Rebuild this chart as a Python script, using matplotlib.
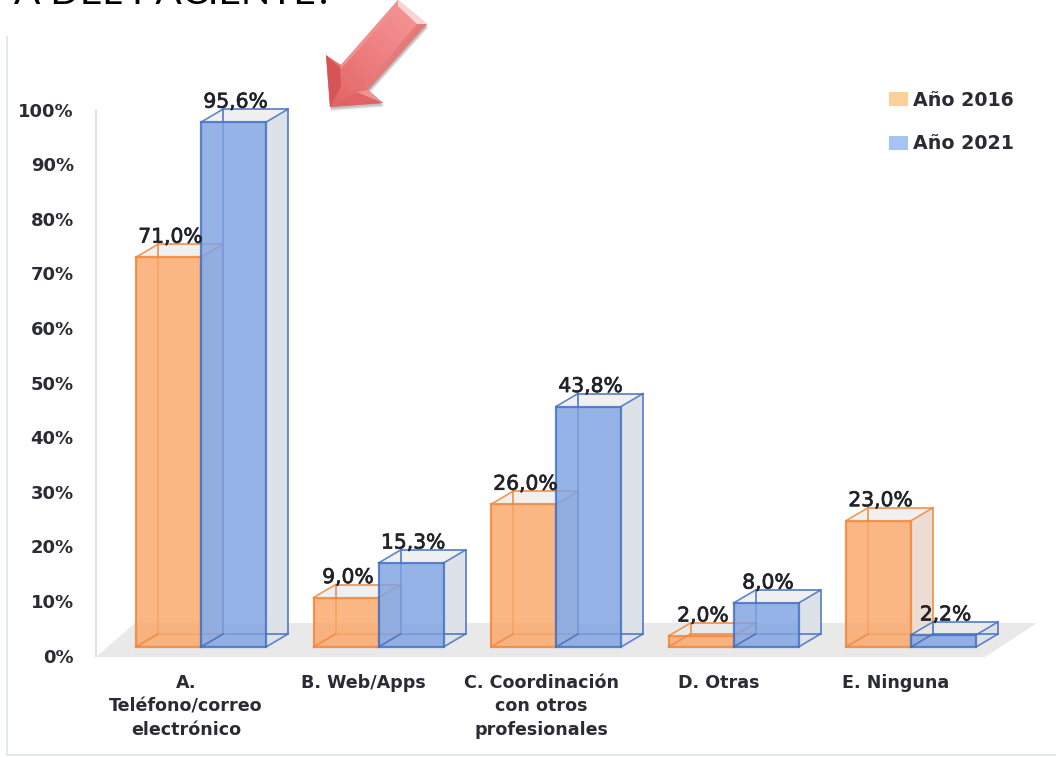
import numpy as np
import matplotlib
matplotlib.use("Agg")
import matplotlib.pyplot as plt
import matplotlib.patheffects as pe
from matplotlib.colors import LinearSegmentedColormap
from matplotlib.patches import Polygon, Patch

categories = ["A.\nTeléfono/correo\nelectrónico", "B. Web/Apps",
              "C. Coordinación\ncon otros\nprofesionales", "D. Otras", "E. Ninguna"]
values_2016 = [71.0, 9.0, 26.0, 2.0, 23.0]
values_2021 = [95.6, 15.3, 43.8, 8.0, 2.2]
series_names = ["Año 2016", "Año 2021"]
y_ticks = list(range(0, 101, 10))
title_text = "A DEL PACIENTE?"

W, H = 1056, 757
fig = plt.figure(figsize=(W/100, H/100), dpi=100, facecolor="white")

# layout in pixels
PX_CAT = 177.5; PX_VAL = 5.49; X0 = 201; BASE = 647; AX_BOTTOM = 657
BAR_W = 65/PX_CAT
DX = 22/PX_CAT; DY = 13/PX_VAL

# decoration layer in pixel coordinates
deco = fig.add_axes([0, 0, 1, 1], zorder=0)
deco.set_xlim(0, W); deco.set_ylim(H, 0); deco.axis("off")
deco.plot([7, 7, W], [37, 755, 755], color="#e6e8ea", lw=1.5)
deco.text(333, 4.5, title_text, family="Lato", fontsize=28, color="black",
          ha="right", va="baseline")

# tick axis (labels sit on a slightly different scale from the bars)
ax_t = fig.add_axes([96/W, 0, 1-96/W, 1], zorder=1, facecolor="none")
ax_t.set_ylim((655.6-H)/5.46, 655.6/5.46)
ax_t.set_xticks([])
ax_t.set_yticks(y_ticks, [f"{v}%" for v in y_ticks])
ax_t.tick_params(axis="y", length=0, pad=16, labelsize=13, labelcolor="#2b2b35")
for l in ax_t.get_yticklabels():
    l.set_fontweight("bold")
for s in ("top", "right", "bottom"):
    ax_t.spines[s].set_visible(False)
ax_t.spines["left"].set_bounds(0, 100)
ax_t.spines["left"].set_color("#dfe3ea")
ax_t.spines["left"].set_linewidth(1.4)

# main axes
ax = fig.add_axes([0, (H-AX_BOTTOM)/H, 1, AX_BOTTOM/H], zorder=2, facecolor="none")
ax.set_xlim(-X0/PX_CAT, (W-X0)/PX_CAT)
ax.set_ylim((BASE-AX_BOTTOM)/PX_VAL, BASE/PX_VAL)
for s in ax.spines.values():
    s.set_visible(False)
ax.set_yticks([])
x = np.arange(len(categories))
ax.set_xticks(x - 15/PX_CAT, categories, fontweight="bold", fontsize=12.6,
              color="#2b2b35", linespacing=1.41)
ax.tick_params(axis="x", length=0, pad=12)

# floor
floor = [(-105/PX_CAT, (BASE-657)/PX_VAL), (784/PX_CAT, (BASE-657)/PX_VAL),
         (836/PX_CAT, (BASE-623)/PX_VAL), (-66/PX_CAT, (BASE-623)/PX_VAL)]
ax.add_patch(Polygon(floor, closed=True, fc="#e9e9e9", ec="none", zorder=1))


def draw_series(xs, vals, face, edge, side, zo):
    for xi, v in zip(xs, vals):
        l, r = xi, xi + BAR_W
        ax.add_patch(Polygon([(r, 0), (r+DX, DY), (r+DX, v+DY), (r, v)], fc=side, ec="none", zorder=zo))
        ax.add_patch(Polygon([(l, v), (l+DX, v+DY), (r+DX, v+DY), (r, v)], fc="#ecebeb", ec="none",
                             alpha=0.7, zorder=zo))
    ax.bar(xs + DX, vals, BAR_W, bottom=DY, align="edge", fc="none", ec=edge, lw=1.3, alpha=0.85, zorder=zo+0.1)
    ax.bar(xs, vals, BAR_W, align="edge", color=face, alpha=0.82, ec="none", zorder=zo+0.2)
    ax.bar(xs, vals, BAR_W, align="edge", fc="none", ec=edge, lw=1.6, alpha=0.85, zorder=zo+0.3)
    for xi, v in zip(xs, vals):
        l, r = xi, xi + BAR_W
        for px in (l, r):
            ax.plot([px, px+DX], [0, DY], color=edge, lw=1.2, alpha=0.85, zorder=zo+0.3)
            ax.plot([px, px+DX], [v, v+DY], color=edge, lw=1.2, alpha=0.85, zorder=zo+0.3)


draw_series(x - BAR_W, values_2016, "#fba768", "#f0873c", "#ecdcd2", 2)
draw_series(x, values_2021, "#7fa3e2", "#4472c4", "#dde1e8", 3)

for xs, vals in ((x - BAR_W, values_2016), (x, values_2021)):
    for xi, v in zip(xs, vals):
        t = ax.annotate(f"{v:.1f}%".replace(".", ","), (xi + BAR_W/2, v), xytext=(2, 20),
                        textcoords="offset pixels", ha="center", va="center",
                        fontsize=14.6, color="#22222a", zorder=6)
        t.set_path_effects([pe.withStroke(linewidth=0.5, foreground="#22222a")])

# legend
handles = [Patch(fc="#fdd09a", ec="none"), Patch(fc="#a6c4f2", ec="none")]
ax.legend(handles, series_names, loc="upper left", bbox_to_anchor=(883/W, 1-85/AX_BOTTOM),
          frameon=False, prop={"weight": "bold", "size": 13.7}, labelcolor="#2b2b35",
          handlelength=1.0, handleheight=0.8, handletextpad=0.3, labelspacing=1.3,
          borderpad=0.3, borderaxespad=0)

# arrow callout
tip = (330, 107)
arrow = [(326, 55), (341, 65), (398, 0), (427, 24), (368, 90), (383, 103), tip]
top = fig.add_axes([0, 0, 1, 1], zorder=3, facecolor="none")
top.set_xlim(0, W); top.set_ylim(H, 0); top.axis("off")
for off, al in ((4, 0.10), (3, 0.14), (2, 0.18)):
    top.add_patch(Polygon([(a+off*0.3, b+off) for a, b in arrow], fc="#555555", ec="none", alpha=al))
yy, xx = np.mgrid[0:1:60j, 0:1:60j]
im = top.imshow(xx - yy, extent=(320, 430, 110, -5),
                cmap=LinearSegmentedColormap.from_list("a", ["#e0605f", "#ee8081", "#f79c9b"]),
                aspect="auto", zorder=2, interpolation="bilinear")
clip = Polygon(arrow, transform=top.transData, fc="none", ec="none")
top.add_patch(clip)
im.set_clip_path(clip)
top.set_xlim(0, W); top.set_ylim(H, 0)
top.add_patch(Polygon([(398, 0), (341, 65), (341, 69), (398, 6)], fc="#f0908f", ec="none", zorder=3))
top.add_patch(Polygon([(427, 24), (368, 90), (364, 87), (417, 24)], fc="#e57a7a", ec="none", zorder=3))
top.add_patch(Polygon([(398, 0), (427, 24), (417, 24), (398, 6)], fc="#fbd5d3", ec="none", zorder=3))
top.add_patch(Polygon([(326, 55), (340, 68), (341, 86), tip], fc="#d65457", ec="none", zorder=3))
top.add_patch(Polygon([(383, 103), (358, 93), (348, 96), tip], fc="#e06465", ec="none", zorder=3))
top.add_patch(Polygon([(383, 103), (368, 90), (357, 92)], fc="#f09392", ec="none", zorder=3))

fig.savefig("out.png", dpi=100)
